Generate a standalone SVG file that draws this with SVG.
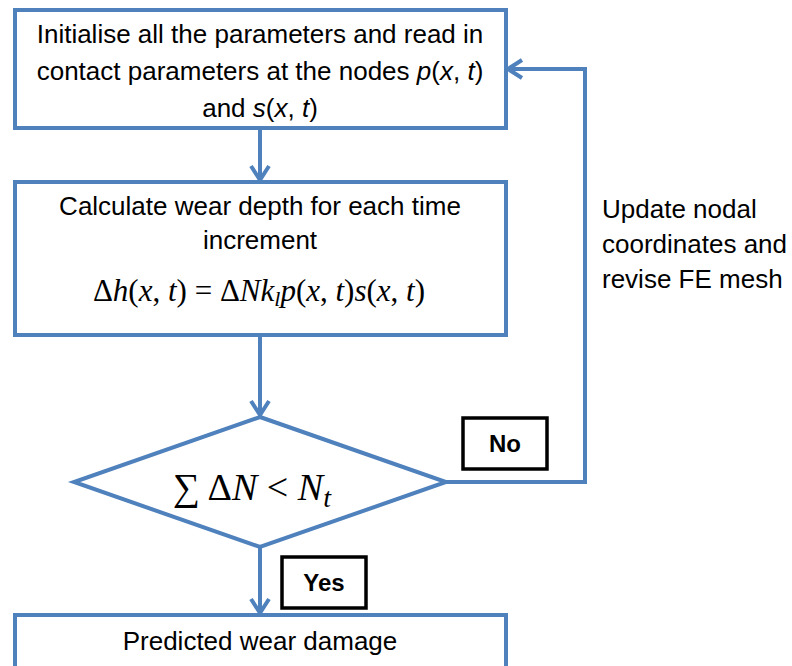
<svg xmlns="http://www.w3.org/2000/svg" width="792" height="666" viewBox="0 0 792 666">
<defs>
<style>
.box{fill:#fff;stroke:#4F81BD;stroke-width:4}
.lbl{fill:#fff;stroke:#000;stroke-width:3.5}
.conn{fill:none;stroke:#4F81BD;stroke-width:4}
.t{font-family:"Liberation Sans",Arial,sans-serif;font-size:26px;fill:#000;text-anchor:middle}
.ts{font-family:"Liberation Sans",Arial,sans-serif;font-size:26px;fill:#000}
.b{font-family:"Liberation Sans",Arial,sans-serif;font-size:24px;font-weight:bold;fill:#000;text-anchor:middle}
.m{font-family:"Liberation Serif","Times New Roman",serif;fill:#000;text-anchor:middle}
.i{font-style:italic}
</style>
<marker id="arr" viewBox="-18 -11 20 22" refX="0" refY="0" markerWidth="20" markerHeight="22" markerUnits="userSpaceOnUse" orient="auto">
<path d="M-14,-9 L0,0 L-14,9" fill="none" stroke="#4F81BD" stroke-width="4"/>
</marker>
</defs>
<g id="connectors">
<line class="conn" x1="260" y1="128" x2="260" y2="180" marker-end="url(#arr)"/>
<line class="conn" x1="260" y1="335" x2="260" y2="415" marker-end="url(#arr)"/>
<line class="conn" x1="260" y1="547" x2="260" y2="613" marker-end="url(#arr)"/>
<polyline class="conn" points="446,482 585,482 585,69 508,69" marker-end="url(#arr)"/>
</g>
<g id="n1">
<rect class="box" x="15" y="10" width="491" height="118"/>
<text class="t" x="260" y="43">Initialise all the parameters and read in</text>
<text class="t" x="260" y="80">contact parameters at the nodes <tspan class="i">p</tspan>(<tspan class="i">x</tspan>, <tspan class="i">t</tspan>)</text>
<text class="t" x="260" y="117">and <tspan class="i">s</tspan>(<tspan class="i">x</tspan>, <tspan class="i">t</tspan>)</text>
</g>
<g id="n2">
<rect class="box" x="15" y="182" width="491" height="153"/>
<text class="t" x="260" y="215">Calculate wear depth for each time</text>
<text class="t" x="260" y="249">increment</text>
<text class="m" x="259" y="301" font-size="31">Δ<tspan class="i">h</tspan>(<tspan class="i">x</tspan>, <tspan class="i">t</tspan>) = Δ<tspan class="i">Nk</tspan><tspan class="i" font-size="22" dy="5">l</tspan><tspan class="i" dy="-5">p</tspan>(<tspan class="i">x</tspan>, <tspan class="i">t</tspan>)<tspan class="i">s</tspan>(<tspan class="i">x</tspan>, <tspan class="i">t</tspan>)</text>
</g>
<g id="n3">
<polygon class="box" points="260,417 446,482 260,547 74,482"/>
<text class="m" x="252" y="500" font-size="38">∑ Δ<tspan class="i">N</tspan> &lt; <tspan class="i">N</tspan><tspan class="i" font-size="28" dy="7">t</tspan></text>
</g>
<g id="n4">
<rect class="box" x="15" y="615" width="491" height="60"/>
<text class="t" x="260" y="650">Predicted wear damage</text>
</g>
<g id="no">
<rect class="lbl" x="463" y="418" width="84" height="51"/>
<text class="b" x="505" y="452">No</text>
</g>
<g id="yes">
<rect class="lbl" x="282" y="557" width="84" height="51"/>
<text class="b" x="324" y="591">Yes</text>
</g>
<g id="update">
<text class="ts" x="602" y="218">Update nodal</text>
<text class="ts" x="602" y="253">coordinates and</text>
<text class="ts" x="602" y="288">revise FE mesh</text>
</g>
</svg>
